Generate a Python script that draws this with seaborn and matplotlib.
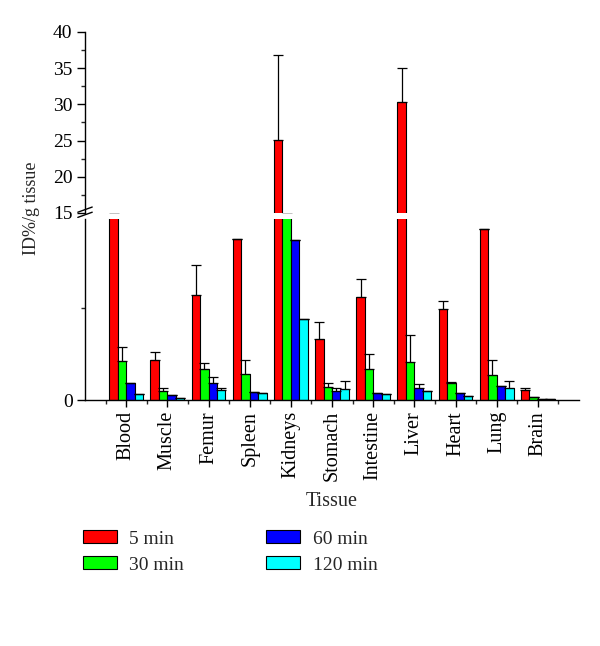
import numpy as np
import pandas as pd
import matplotlib
matplotlib.use("Agg")
import matplotlib.pyplot as plt
import seaborn as sns

tissues = ["Blood", "Muscle", "Femur", "Spleen", "Kidneys", "Stomach",
           "Intestine", "Liver", "Heart", "Lung", "Brain"]
times = ["5 min", "30 min", "60 min", "120 min"]
colors = ["#ff0000", "#00ff00", "#0000ff", "#00ffff"]

# mean ID%/g per time point (same order as tissues)
val_5 = [14.9, 3.3, 8.55, 13.1, 25.1, 5.0, 8.4, 30.3, 7.4, 13.9, 0.8]
val_30 = [3.2, 0.75, 2.5, 2.1, 14.9, 1.1, 2.5, 3.1, 1.4, 2.0, 0.25]
val_60 = [1.4, 0.4, 1.4, 0.65, 13.0, 0.7, 0.55, 1.0, 0.55, 1.15, 0.1]
val_120 = [0.5, 0.2, 0.8, 0.55, 6.6, 0.9, 0.5, 0.75, 0.3, 1.0, 0.08]

# upper error (SD)
err_5 = [0.0, 0.6, 2.45, 0.0, 11.7, 1.35, 1.5, 4.7, 0.7, 0.0, 0.15]
err_30 = [1.1, 0.25, 0.5, 1.2, 0.0, 0.3, 1.25, 2.2, 0.1, 1.3, 0.0]
err_60 = [0.0, 0.0, 0.5, 0.0, 0.0, 0.3, 0.0, 0.3, 0.0, 0.0, 0.0]
err_120 = [0.0, 0.0, 0.2, 0.0, 0.0, 0.65, 0.0, 0.0, 0.0, 0.55, 0.0]

values = [val_5, val_30, val_60, val_120]
errors = [err_5, err_30, err_60, err_120]

rows = []
for t, vals in zip(times, values):
    for tis, v in zip(tissues, vals):
        rows.append({"Tissue": tis, "Time": t, "Value": v})
df = pd.DataFrame(rows)

sns.set_theme(style="ticks")
plt.rcParams["font.family"] = ["Liberation Serif", "DejaVu Serif"]
plt.rcParams["font.size"] = 14

fig = plt.figure(figsize=(6.0, 6.46), dpi=100)
ax_top = fig.add_axes([0.1417, 0.6703, 0.8233, 0.2802])
ax_bot = fig.add_axes([0.1417, 0.3808, 0.8233, 0.2802])

for ax in (ax_top, ax_bot):
    sns.barplot(data=df, x="Tissue", y="Value", hue="Time", hue_order=times,
                palette=colors, edgecolor="black", linewidth=0.8, width=0.82,
                saturation=1, errorbar=None, legend=False, ax=ax)
    for cont, err in zip(ax.containers, errors):
        xs = [b.get_x() + b.get_width() / 2 for b in cont]
        hs = [b.get_height() for b in cont]
        e = np.array(err)
        ax.errorbar(xs, hs, yerr=[np.zeros_like(e), e], fmt="none",
                    ecolor="black", elinewidth=0.9, capsize=3.5, capthick=0.9)
    ax.set_xlim(-1, len(tissues))
    ax.set_ylabel("")
    for s in ("top", "right"):
        ax.spines[s].set_visible(False)
    ax.tick_params(colors="black", labelcolor="black")

# upper part of the broken axis
ax_top.set_ylim(15, 40)
ax_top.set_yticks([15, 20, 25, 30, 35, 40])
ax_top.set_yticks(np.arange(17.5, 40, 5), minor=True)
ax_top.spines["bottom"].set_visible(False)
ax_top.set_xticks([])
ax_top.set_xlabel("")
ax_top.tick_params(axis="y", which="major", length=6, width=1, labelsize=14,
                   pad=3)
ax_top.tick_params(axis="y", which="minor", length=3, width=1)

# lower part
ax_bot.set_ylim(0, 14.75)
ax_bot.set_yticks([0])
ax_bot.set_yticks([7.5], minor=True)
ax_bot.tick_params(axis="y", which="major", length=6, width=1, labelsize=14,
                   pad=3)
ax_bot.tick_params(axis="y", which="minor", length=3, width=1)
ax_bot.set_xticks(range(len(tissues)))
ax_bot.set_xticklabels(tissues, rotation=90, fontsize=14.5)
ax_bot.set_xticks(np.arange(-0.5, len(tissues), 1), minor=True)
ax_bot.tick_params(axis="x", which="major", length=5, width=1, pad=3)
ax_bot.tick_params(axis="x", which="minor", length=3, width=1)
ax_bot.set_xlabel("Tissue", fontsize=14.5, labelpad=8)

for ax in (ax_top, ax_bot):
    for s in ("left", "bottom"):
        ax.spines[s].set_linewidth(1.0)
        ax.spines[s].set_color("black")

# break marks on the y axis
kw = dict(transform=fig.transFigure, color="black", lw=1.0, clip_on=False)
x0 = 0.1417
for dy in (0.0, 0.008):
    fig.add_artist(plt.Line2D([x0 - 0.012, x0 + 0.012],
                              [0.6635 + dy, 0.6715 + dy], **kw))

fig.text(0.053, 0.678, "ID%/g tissue", rotation=90, va="center", ha="center",
         fontsize=13)

handles = [plt.Rectangle((0, 0), 1, 1, facecolor=c, edgecolor="black",
                         linewidth=0.8) for c in colors]
fig.legend(handles, times, loc="upper left", bbox_to_anchor=(0.138, 0.179),
           ncol=2, frameon=False, fontsize=14, handlelength=1.75,
           handleheight=0.62, handletextpad=0.65, columnspacing=4.2,
           labelspacing=0.46, borderaxespad=0, borderpad=0)

fig.savefig("out.png", dpi=100)
